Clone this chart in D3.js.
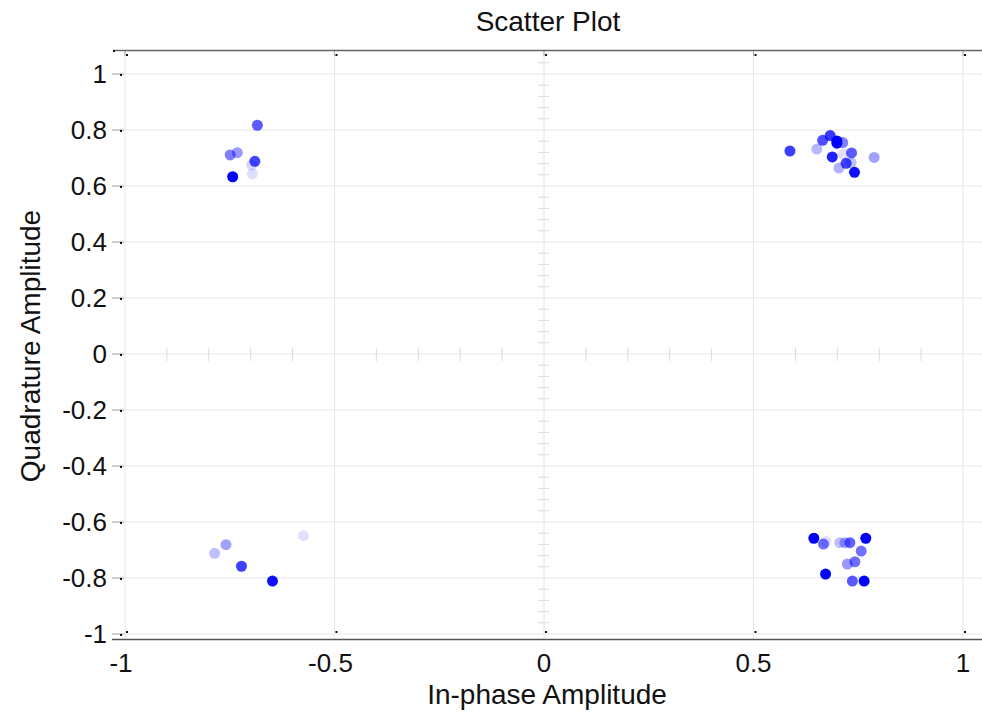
<!DOCTYPE html>
<html>
<head>
<meta charset="utf-8">
<script src="https://cdn.jsdelivr.net/npm/d3@7"></script>
<style>
  html, body { margin: 0; padding: 0; background: #fff; }
  svg { display: block; font-family: "Liberation Sans", Arial, sans-serif; }
</style>
</head>
<body>
<svg id="chart" width="982" height="713"></svg>
<script>
// Constellation samples: in-phase (I) and quadrature (Q) components
const inPhase = [
  -0.684, -0.732, -0.749, -0.690, -0.698, -0.696, -0.743,
  0.587, 0.651, 0.665, 0.683, 0.713, 0.699, 0.699, 0.714, 0.734, 0.688, 0.733, 0.721, 0.704, 0.741, 0.788,
  -0.786, -0.759, -0.722, -0.648, -0.574,
  0.644, 0.667, 0.673, 0.706, 0.718, 0.730, 0.768, 0.757, 0.742, 0.724, 0.672, 0.736, 0.764
];
const quadrature = [
  0.817, 0.719, 0.711, 0.688, 0.675, 0.643, 0.633,
  0.725, 0.732, 0.763, 0.780, 0.755, 0.761, 0.753, 0.713, 0.718, 0.704, 0.683, 0.681, 0.664, 0.649, 0.702,
  -0.712, -0.681, -0.758, -0.811, -0.649,
  -0.658, -0.679, -0.670, -0.674, -0.674, -0.674, -0.658, -0.704, -0.742, -0.750, -0.786, -0.811, -0.811
];
// Per-sample weight, shown as marker intensity
const weight = [
  0.64, 0.40, 0.50, 0.73, 0.15, 0.13, 1.00,
  0.76, 0.28, 0.69, 0.78, 0.50, 1.00, 1.00, 0.12, 0.65, 0.87, 0.25, 0.75, 0.31, 0.94, 0.37,
  0.25, 0.37, 0.75, 0.94, 0.12,
  1.00, 0.56, 0.12, 0.25, 0.34, 0.62, 1.00, 0.56, 0.56, 0.40, 1.00, 0.65, 1.00
];

const xTicks = [-1, -0.5, 0, 0.5, 1];
const yTicks = [-1, -0.8, -0.6, -0.4, -0.2, 0, 0.2, 0.4, 0.6, 0.8, 1];
const xTickLabels = ["-1", "-0.5", "0", "0.5", "1"];
const yTickLabels = ["-1", "-0.8", "-0.6", "-0.4", "-0.2", "0", "0.2", "0.4", "0.6", "0.8", "1"];
const xMinorTicks = d3.range(-9, 10).map(i => i / 10).filter(v => Math.abs(v * 2 - Math.round(v * 2)) > 1e-9);
const yMinorTicks = d3.range(-25, 27).map(i => i * 0.04).filter(v => Math.abs(v * 5 - Math.round(v * 5)) > 1e-9 && v <= 1.05 && v >= -1.01);

const svg = d3.select("#chart");
const plot = { left: 113, right: 982, top: 50, bottom: 639 };

const x = d3.scaleLinear().domain([-1, 1]).range([125, 963]);
const y = d3.scaleLinear().domain([-1, 1]).range([634, 74]);
const opacity = d3.scaleLinear().domain([0, 1]).range([0, 1]);

const gridColor = "#e6e6e6";
const tickColor = "#dadada";

// Grid
const grid = svg.append("g");
grid.selectAll("line.vx").data(xTicks).join("line")
  .attr("x1", d => x(d)).attr("x2", d => x(d))
  .attr("y1", plot.top).attr("y2", plot.bottom)
  .attr("stroke", gridColor).attr("stroke-width", 1);
grid.selectAll("line.hy").data(yTicks).join("line")
  .attr("x1", plot.left).attr("x2", plot.right)
  .attr("y1", d => y(d)).attr("y2", d => y(d))
  .attr("stroke", gridColor).attr("stroke-width", 1);

// Minor ticks along the zero axes
grid.selectAll("line.mx").data(xMinorTicks).join("line")
  .attr("x1", d => x(d)).attr("x2", d => x(d))
  .attr("y1", y(0) - 6).attr("y2", y(0) + 7)
  .attr("stroke", tickColor);
grid.selectAll("line.my").data(yMinorTicks).join("line")
  .attr("x1", x(0) - 6).attr("x2", x(0) + 5)
  .attr("y1", d => y(d)).attr("y2", d => y(d))
  .attr("stroke", tickColor);

// Left y ticks
grid.selectAll("line.ly").data(yTicks).join("line")
  .attr("x1", 112).attr("x2", 124)
  .attr("y1", d => y(d)).attr("y2", d => y(d))
  .attr("stroke", "#aaa");
// Top x ticks
grid.selectAll("line.tx").data(xTicks).join("line")
  .attr("x1", d => x(d)).attr("x2", d => x(d))
  .attr("y1", plot.top).attr("y2", plot.top + 6)
  .attr("stroke", "#aaa");

// Frame lines
svg.append("line").attr("x1", plot.left).attr("x2", plot.right)
  .attr("y1", plot.top + 0.5).attr("y2", plot.top + 0.5)
  .attr("stroke", "#666").attr("stroke-width", 1.5);
svg.append("line").attr("x1", plot.left - 1).attr("x2", plot.right)
  .attr("y1", plot.bottom + 0.5).attr("y2", plot.bottom + 0.5)
  .attr("stroke", "#555").attr("stroke-width", 1.5);

// Tick markers
const marks = svg.append("g").attr("fill", "#111");
marks.selectAll("rect.t").data(xTicks).join("rect")
  .attr("x", d => x(d) + 1).attr("y", 54).attr("width", 2).attr("height", 2);
marks.selectAll("rect.b").data(xTicks).join("rect")
  .attr("x", d => x(d) + 1).attr("y", 631).attr("width", 2).attr("height", 2);
marks.selectAll("rect.l").data(yTicks).join("rect")
  .attr("x", 120).attr("y", d => y(d)).attr("width", 2).attr("height", 2);
marks.append("rect").attr("x", 113).attr("y", 50).attr("width", 2).attr("height", 2);

// Points
svg.append("g").selectAll("circle").data(inPhase).join("circle")
  .attr("cx", d => x(d))
  .attr("cy", (d, i) => y(quadrature[i]))
  .attr("r", 5.5)
  .attr("fill", "#0000ff")
  .attr("fill-opacity", (d, i) => opacity(weight[i]));

// Tick labels
const tickFs = 26;
const labelFs = 28;
svg.append("g").selectAll("text").data(xTicks).join("text")
  .attr("x", d => x(d) - (d < 0 ? 4 : 0)).attr("y", 672)
  .attr("text-anchor", "middle").attr("font-size", tickFs).attr("fill", "#111")
  .text((d, i) => xTickLabels[i]);
svg.append("g").selectAll("text").data(yTicks).join("text")
  .attr("x", 107).attr("y", d => y(d) + 9)
  .attr("text-anchor", "end").attr("font-size", tickFs).attr("fill", "#111")
  .text((d, i) => yTickLabels[i]);

// Title and axis labels
svg.append("text").attr("x", 548).attr("y", 31)
  .attr("text-anchor", "middle").attr("font-size", labelFs).attr("fill", "#111")
  .text("Scatter Plot");
svg.append("text").attr("x", 547).attr("y", 704)
  .attr("text-anchor", "middle").attr("font-size", labelFs).attr("fill", "#111")
  .text("In-phase Amplitude");
svg.append("text").attr("transform", "translate(40,346) rotate(-90)")
  .attr("text-anchor", "middle").attr("font-size", labelFs).attr("fill", "#111")
  .text("Quadrature Amplitude");
</script>
</body>
</html>
